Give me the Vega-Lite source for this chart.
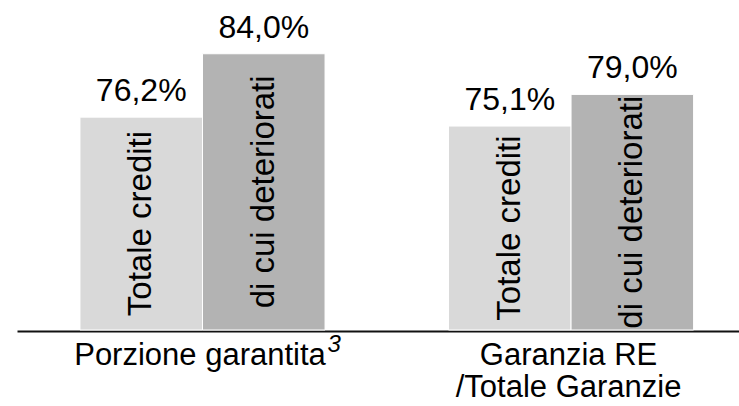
{
  "$schema": "https://vega.github.io/schema/vega-lite/v6.json",
  "width": 722,
  "height": 325,
  "autosize": {"type": "none"},
  "padding": {"left": 17, "top": 5, "right": 0, "bottom": 76},
  "background": "white",
  "config": {"view": {"stroke": null}, "font": "Liberation Sans"},
  "datasets": {
    "bars": [
      {"category": "Porzione garantita", "series": "Totale crediti", "value": 76.2, "label": "76,2%"},
      {"category": "Porzione garantita", "series": "di cui deteriorati", "value": 84.0, "label": "84,0%"},
      {"category": "Garanzia RE /Totale Garanzie", "series": "Totale crediti", "value": 75.1, "label": "75,1%"},
      {"category": "Garanzia RE /Totale Garanzie", "series": "di cui deteriorati", "value": 79.0, "label": "79,0%"}
    ],
    "cats": [
      {"category": "Porzione garantita", "name": "Porzione garantita"},
      {"category": "Garanzia RE /Totale Garanzie", "name": "Garanzia RE\n/Totale Garanzie"}
    ],
    "sup": [
      {"category": "Porzione garantita", "note": "3"}
    ]
  },
  "layer": [
    {
      "data": {"name": "bars"},
      "mark": {"type": "bar", "stroke": "white", "strokeWidth": 1},
      "encoding": {
        "x": {"field": "category", "type": "nominal", "sort": ["Porzione garantita", "Garanzia RE /Totale Garanzie"],
              "scale": {"paddingInner": 0.335, "paddingOuter": 0.147, "align": 0.581},
              "axis": {"labels": false, "ticks": false, "title": null, "domain": true, "domainColor": "#111111", "domainWidth": 2, "offset": 1}},
        "xOffset": {"field": "series", "type": "nominal", "sort": ["Totale crediti", "di cui deteriorati"], "scale": {"paddingInner": 0, "paddingOuter": 0}},
        "y": {"field": "value", "type": "quantitative", "scale": {"domain": [50, 90], "zero": false, "nice": false}, "axis": null},
        "y2": {"datum": 50},
        "color": {"field": "series", "type": "nominal", "scale": {"domain": ["Totale crediti", "di cui deteriorati"], "range": ["#d9d9d9", "#b3b3b3"]}, "legend": null}
      }
    },
    {
      "data": {"name": "bars"},
      "mark": {"type": "text", "fontSize": 32, "dy": -16, "baseline": "alphabetic", "align": "center", "color": "black"},
      "encoding": {
        "x": {"field": "category", "type": "nominal", "sort": ["Porzione garantita", "Garanzia RE /Totale Garanzie"]},
        "xOffset": {"field": "series", "type": "nominal", "sort": ["Totale crediti", "di cui deteriorati"]},
        "y": {"field": "value", "type": "quantitative", "scale": {"domain": [50, 90], "zero": false, "nice": false}, "axis": null},
        "text": {"field": "label"}
      }
    },
    {
      "data": {"name": "bars"},
      "mark": {"type": "text", "fontSize": 33, "angle": 270, "baseline": "middle", "align": "center", "color": "black"},
      "encoding": {
        "x": {"field": "category", "type": "nominal", "sort": ["Porzione garantita", "Garanzia RE /Totale Garanzie"]},
        "xOffset": {"field": "series", "type": "nominal", "sort": ["Totale crediti", "di cui deteriorati"]},
        "y": {"field": "value", "type": "quantitative", "scale": {"domain": [50, 130], "zero": false, "nice": false}, "axis": null},
        "text": {"field": "series"}
      }
    },
    {
      "data": {"name": "cats"},
      "mark": {"type": "text", "fontSize": 31, "dy": 35, "dx": -2.5, "baseline": "alphabetic", "align": "center", "lineBreak": "\n", "lineHeight": 32, "color": "black"},
      "encoding": {
        "x": {"field": "category", "type": "nominal", "sort": ["Porzione garantita", "Garanzia RE /Totale Garanzie"]},
        "y": {"datum": 50, "type": "quantitative", "scale": {"domain": [50, 90], "zero": false, "nice": false}, "axis": null},
        "text": {"field": "name"}
      }
    },
    {
      "data": {"name": "sup"},
      "mark": {"type": "text", "fontSize": 24, "fontStyle": "italic", "dy": 22, "dx": 125, "baseline": "alphabetic", "align": "left", "color": "black"},
      "encoding": {
        "x": {"field": "category", "type": "nominal", "sort": ["Porzione garantita", "Garanzia RE /Totale Garanzie"]},
        "y": {"datum": 50, "type": "quantitative", "scale": {"domain": [50, 90], "zero": false, "nice": false}, "axis": null},
        "text": {"field": "note"}
      }
    }
  ],
  "resolve": {"scale": {"y": "independent"}}
}
